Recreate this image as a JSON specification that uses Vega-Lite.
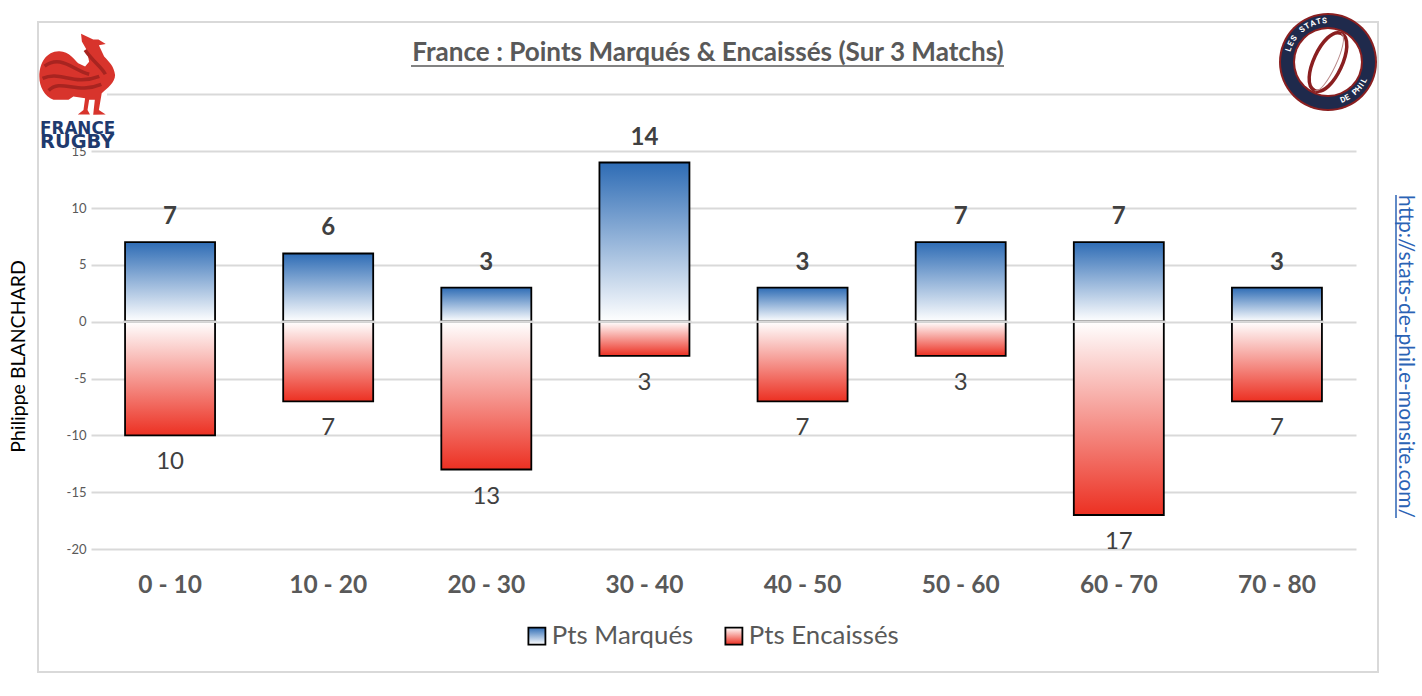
{
"$schema":"https://vega.github.io/schema/vega-lite/v6.json",
"width":1340,"height":650,
"autosize":"none",
"padding":{"left":38,"top":22,"right":44,"bottom":24},
"background":"white",
"config":{"view":{"stroke":"#d9d9d9","strokeWidth":2},"font":"Lato"},
"title":{"text":"France : Points Marqués & Encaissés (Sur 3 Matchs)","frame":"group","anchor":"middle","offset":-53,"fontSize":26.1,"fontWeight":"bold","font":"Lato","color":"#595959"},
"datasets":{"pts":[
{"t":"0 - 10","s":"Pts Marqués","v":7,"pts":7},{"t":"10 - 20","s":"Pts Marqués","v":6,"pts":6},{"t":"20 - 30","s":"Pts Marqués","v":3,"pts":3},{"t":"30 - 40","s":"Pts Marqués","v":14,"pts":14},{"t":"40 - 50","s":"Pts Marqués","v":3,"pts":3},{"t":"50 - 60","s":"Pts Marqués","v":7,"pts":7},{"t":"60 - 70","s":"Pts Marqués","v":7,"pts":7},{"t":"70 - 80","s":"Pts Marqués","v":3,"pts":3},
{"t":"0 - 10","s":"Pts Encaissés","v":-10,"pts":10},{"t":"10 - 20","s":"Pts Encaissés","v":-7,"pts":7},{"t":"20 - 30","s":"Pts Encaissés","v":-13,"pts":13},{"t":"30 - 40","s":"Pts Encaissés","v":-3,"pts":3},{"t":"40 - 50","s":"Pts Encaissés","v":-7,"pts":7},{"t":"50 - 60","s":"Pts Encaissés","v":-3,"pts":3},{"t":"60 - 70","s":"Pts Encaissés","v":-17,"pts":17},{"t":"70 - 80","s":"Pts Encaissés","v":-7,"pts":7}
]},
"data":{"values":[{}]},
"layer":[
{"data":{"name":"pts"},"mark":{"type":"bar","width":90,"strokeWidth":1.8,"cornerRadius":0},
"encoding":{
"x":{"field":"t","type":"nominal","sort":null,"title":null,"scale":{"range":[53,1318],"paddingInner":0,"paddingOuter":0},
"axis":{"offset":-123,"domain":false,"ticks":false,"grid":false,"labelAngle":0,"labelPadding":24,"labelFontSize":24.5,"labelFontWeight":"bold","labelFont":"Lato","labelColor":"#595959"}},
"y":{"field":"v","type":"quantitative","title":"Philippe BLANCHARD","scale":{"domain":[-20,20],"range":[527.1,72.3],"nice":false,"zero":false},
"axis":{"offset":-53,"domain":false,"ticks":false,"grid":true,"gridColor":"#d9d9d9","gridWidth":2,"values":[-20,-15,-10,-5,0,5,10,15,20],"labelExpr":"replace(datum.label,'−','-')","labelPadding":5,"labelFontSize":13,"labelColor":"#595959","labelFont":"Lato","titleFont":"Lato","titleFontSize":19.5,"titleFontWeight":"normal","titleColor":"#000000","titleX":-73,"titleY":334,"titleAngle":-90,"titleBaseline":"middle"}},
"fill":{"condition":{"test":"datum.v>0","value":{"gradient":"linear","x1":0,"y1":0,"x2":0,"y2":1,"stops":[{"offset":0,"color":"#2e6cb5"},{"offset":1,"color":"#ffffff"}]}},"value":{"gradient":"linear","x1":0,"y1":0,"x2":0,"y2":1,"stops":[{"offset":0,"color":"#ffffff"},{"offset":1,"color":"#ec3022"}]}},
"stroke":{"field":"s","type":"nominal","title":null,
"scale":{"domain":["Pts Marqués","Pts Encaissés"],"range":["#000000","#000000"]},
"legend":{"orient":"none","legendX":486,"legendY":601,"direction":"horizontal","columns":2,"symbolType":"square","symbolSize":289,"symbolStrokeWidth":1.8,"symbolOpacity":1,"labelFont":"Lato","labelFontSize":25.8,"labelColor":"#595959","labelOffset":2,"columnPadding":27,
"encoding":{"symbols":{"fill":{"condition":{"test":"datum.value==='Pts Marqués'","value":{"gradient":"linear","x1":0,"y1":0,"x2":0,"y2":1,"stops":[{"offset":0,"color":"#2e6cb5"},{"offset":1,"color":"#ffffff"}]}},"value":{"gradient":"linear","x1":0,"y1":0,"x2":0,"y2":1,"stops":[{"offset":0,"color":"#ffffff"},{"offset":1,"color":"#ec3022"}]}}}}}}}},
{"data":{"name":"pts"},"mark":{"type":"tick","orient":"horizontal","size":94,"thickness":2,"color":"#d9d9d9","opacity":1},
"encoding":{"x":{"field":"t","type":"nominal","sort":null},"y":{"datum":0,"type":"quantitative"}}},
{"data":{"name":"pts"},"transform":[{"filter":"datum.v>0"}],"mark":{"type":"text","dy":-25,"fontSize":24,"fontWeight":"bold","font":"Lato","color":"#404040","baseline":"middle"},"encoding":{"x":{"field":"t","type":"nominal","sort":null},"y":{"field":"v","type":"quantitative"},"text":{"field":"pts","type":"quantitative"}}},
{"data":{"name":"pts"},"transform":[{"filter":"datum.v<0"}],"mark":{"type":"text","dy":27,"fontSize":24,"font":"Lato","color":"#404040","baseline":"middle"},"encoding":{"x":{"field":"t","type":"nominal","sort":null},"y":{"field":"v","type":"quantitative"},"text":{"field":"pts","type":"quantitative"}}},
{"mark":{"type":"rect","x":2,"x2":69,"y":8,"y2":126,"fill":"#ffffff"},"encoding":{}},
{"mark":{"type":"point","shape":"M.10,-1 L.40,-.86 L.53,-.86 L.71,-.75 L.54,-.72 L.67,-.44 C.78,-.32 .92,-.2 .94,.02 C.94,.2 .75,.35 .61,.47 L.54,.88 L.71,.99 L.40,1 L.44,.63 L.30,.63 L.26,.88 L.32,.99 L.02,.99 L.16,.88 L.20,.59 L-.09,.55 L-.21,.63 L-.58,.63 C-.8,.55 -.93,.3 -.93,.06 C-.93,-.3 -.75,-.56 -.45,-.57 C-.2,-.58 -.05,-.35 .03,-.27 L.20,-.19 L.30,-.31 L.24,-.60 L.12,-.81 Z","x":39,"y":52.3,"size":6561,"filled":true,"fill":"#d8342c","opacity":1,"strokeWidth":0},"encoding":{}},
{"mark":{"type":"point","shape":"M-.8,-.2 C-.4,-.5 -.1,-.1 .3,0 M-.85,.1 C-.4,-.1 -.1,.3 .55,.05 M-.7,.4 C-.4,.1 0,.5 .6,.25 M.2,-.6 C.4,-.3 .6,-.2 .7,0","x":39,"y":52.3,"size":6561,"filled":false,"stroke":"#a82420","strokeWidth":3.5,"opacity":1},"encoding":{}},
{"mark":{"type":"text","text":"FRANCE","x":2,"y":107,"align":"left","baseline":"middle","font":"DejaVu Sans","fontSize":16.8,"fontWeight":"bold","color":"#1f3a6e"},"encoding":{}},
{"mark":{"type":"text","text":"RUGBY","x":2,"y":120,"align":"left","baseline":"middle","font":"DejaVu Sans","fontSize":19.4,"fontWeight":"bold","color":"#1f3a6e"},"encoding":{}},
{"mark":{"type":"point","shape":"circle","x":1290,"y":40,"size":9604,"filled":true,"fill":"#8a1f20","opacity":1,"strokeWidth":0},"encoding":{}},
{"mark":{"type":"point","shape":"circle","x":1290,"y":40,"size":8836,"filled":true,"fill":"#1f2a4c","opacity":1,"strokeWidth":0},"encoding":{}},
{"mark":{"type":"point","shape":"circle","x":1290,"y":40,"size":4900,"filled":true,"fill":"#8a1f20","opacity":1,"strokeWidth":0},"encoding":{}},
{"mark":{"type":"point","shape":"circle","x":1290,"y":40,"size":4356,"filled":true,"fill":"#ffffff","opacity":1,"strokeWidth":0},"encoding":{}},
{"mark":{"type":"point","shape":"M0,-1 C.6,-1 .6,1 0,1 C-.6,1 -.6,-1 0,-1 Z","x":1290,"y":40,"size":3969,"angle":25,"filled":false,"stroke":"#8a1f20","strokeWidth":3.5,"opacity":1},"encoding":{}},
{"mark":{"type":"point","shape":"M0,-1 C.35,-1 .35,1 0,1","x":1290,"y":40,"size":3969,"angle":25,"filled":false,"stroke":"#b98a8a","strokeWidth":1,"opacity":1},"encoding":{}},
{"mark":{"type":"text","text":"L","x":1251,"y":27.3,"angle":-72,"align":"center","baseline":"middle","font":"Roboto","fontSize":8,"fontWeight":"bold","color":"#ffffff"},"encoding":{}},
{"mark":{"type":"text","text":"E","x":1253.3,"y":21.8,"angle":-63.6,"align":"center","baseline":"middle","font":"Roboto","fontSize":8,"fontWeight":"bold","color":"#ffffff"},"encoding":{}},
{"mark":{"type":"text","text":"S","x":1256.3,"y":16.6,"angle":-55.2,"align":"center","baseline":"middle","font":"Roboto","fontSize":8,"fontWeight":"bold","color":"#ffffff"},"encoding":{}},
{"mark":{"type":"text","text":"S","x":1264.5,"y":7.9,"angle":-38.4,"align":"center","baseline":"middle","font":"Roboto","fontSize":8,"fontWeight":"bold","color":"#ffffff"},"encoding":{}},
{"mark":{"type":"text","text":"T","x":1269.5,"y":4.5,"angle":-30,"align":"center","baseline":"middle","font":"Roboto","fontSize":8,"fontWeight":"bold","color":"#ffffff"},"encoding":{}},
{"mark":{"type":"text","text":"A","x":1274.9,"y":1.9,"angle":-21.6,"align":"center","baseline":"middle","font":"Roboto","fontSize":8,"fontWeight":"bold","color":"#ffffff"},"encoding":{}},
{"mark":{"type":"text","text":"T","x":1280.6,"y":0.1,"angle":-13.2,"align":"center","baseline":"middle","font":"Roboto","fontSize":8,"fontWeight":"bold","color":"#ffffff"},"encoding":{}},
{"mark":{"type":"text","text":"S","x":1286.6,"y":-0.8,"angle":-4.8,"align":"center","baseline":"middle","font":"Roboto","fontSize":8,"fontWeight":"bold","color":"#ffffff"},"encoding":{}},
{"mark":{"type":"text","text":"D","x":1305.2,"y":78.1,"angle":-21.7,"align":"center","baseline":"middle","font":"Roboto","fontSize":8,"fontWeight":"bold","color":"#ffffff"},"encoding":{}},
{"mark":{"type":"text","text":"E","x":1309.6,"y":76,"angle":-28.6,"align":"center","baseline":"middle","font":"Roboto","fontSize":8,"fontWeight":"bold","color":"#ffffff"},"encoding":{}},
{"mark":{"type":"text","text":"P","x":1317.6,"y":70.3,"angle":-42.4,"align":"center","baseline":"middle","font":"Roboto","fontSize":8,"fontWeight":"bold","color":"#ffffff"},"encoding":{}},
{"mark":{"type":"text","text":"H","x":1321.1,"y":66.7,"angle":-49.3,"align":"center","baseline":"middle","font":"Roboto","fontSize":8,"fontWeight":"bold","color":"#ffffff"},"encoding":{}},
{"mark":{"type":"text","text":"I","x":1324.1,"y":62.8,"angle":-56.2,"align":"center","baseline":"middle","font":"Roboto","fontSize":8,"fontWeight":"bold","color":"#ffffff"},"encoding":{}},
{"mark":{"type":"text","text":"L","x":1326.5,"y":58.6,"angle":-63,"align":"center","baseline":"middle","font":"Roboto","fontSize":8,"fontWeight":"bold","color":"#ffffff"},"encoding":{}},
{"mark":{"type":"rule","stroke":"#595959","strokeWidth":1.5},"encoding":{"x":{"value":373},"x2":{"value":966},"y":{"value":44}}},
{"mark":{"type":"text","text":"http://stats-de-phil.e-monsite.com/","x":1367,"y":334.5,"angle":90,"align":"center","baseline":"middle","font":"Lato","fontSize":21,"color":"#2b63b5"},"encoding":{}},
{"mark":{"type":"rule","stroke":"#2b63b5","strokeWidth":1.5},"encoding":{"x":{"value":1358},"y":{"value":173},"y2":{"value":496}}}
]
}
